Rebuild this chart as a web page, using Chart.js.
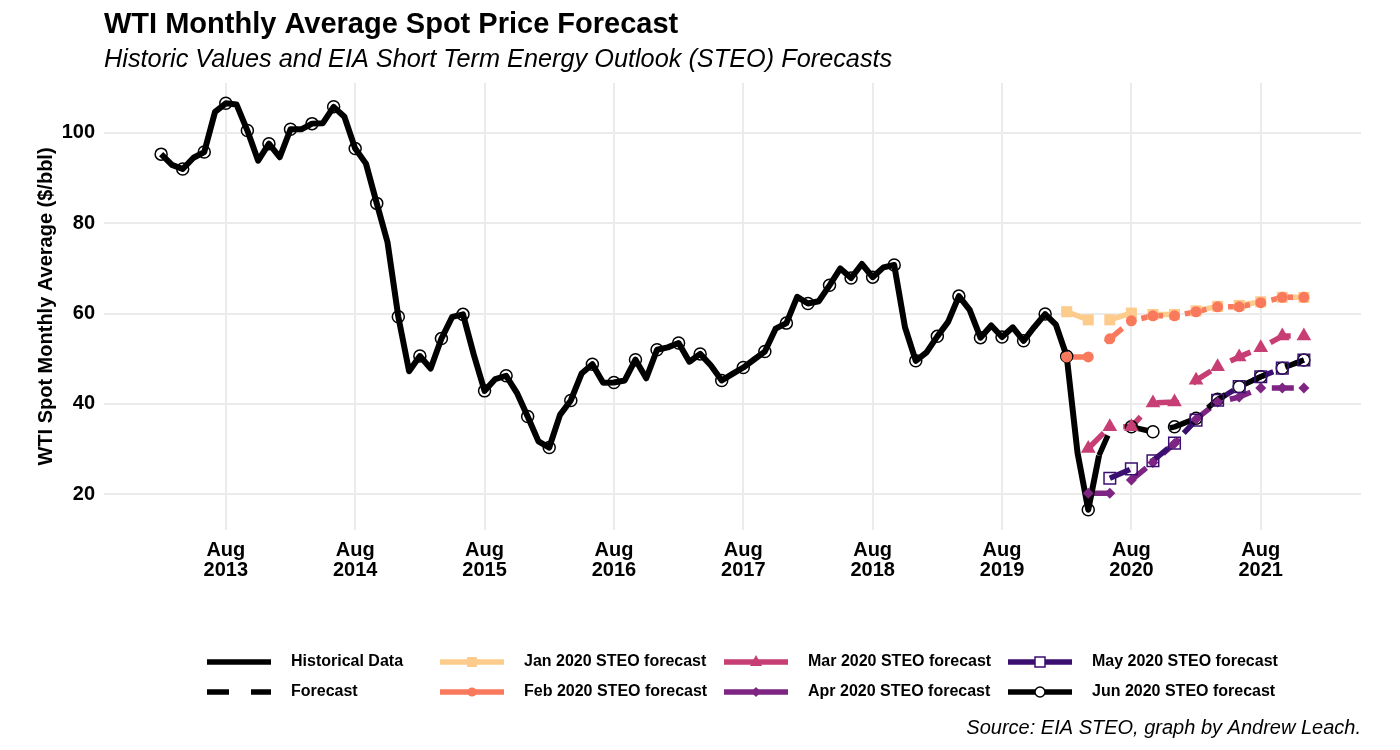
<!DOCTYPE html>
<html>
<head>
<meta charset="utf-8">
<title>WTI Monthly Average Spot Price Forecast</title>
<script src="https://cdn.jsdelivr.net/npm/chart.js@4.4.1/dist/chart.umd.min.js"></script>
<style>
    html, body { margin: 0; padding: 0; background: #fff; }
    #wrap { width: 1400px; height: 750px; }
</style>
</head>
<body>
<div id="wrap"><canvas id="chart_wti" width="1400" height="750"></canvas></div>
<script>
// x values are month numbers counted from Jan 2013 (= 0)
const histStart = 1; // Feb 2013
const histPrices = [
    95.31, 92.94, 92.02, 94.51, 95.77, 104.67, 106.57, 106.29, 100.54, 93.86, 97.63,
    94.62, 100.82, 100.80, 102.07, 102.18, 105.79, 103.59, 96.54, 93.21, 84.40, 75.79, 59.29,
    47.22, 50.58, 47.82, 54.45, 59.27, 59.82, 50.90, 42.87, 45.48, 46.22, 42.44, 37.19,
    31.68, 30.32, 37.55, 40.75, 46.71, 48.76, 44.65, 44.72, 45.18, 49.78, 45.66, 51.97,
    52.50, 53.47, 49.33, 51.06, 48.48, 45.18, 46.63, 48.04, 49.82, 51.58, 56.64, 57.88,
    63.70, 62.23, 62.73, 66.25, 69.98, 67.87, 70.98, 68.06, 70.23, 70.75, 56.96, 49.52,
    51.38, 54.95, 58.15, 63.86, 60.83, 54.66, 57.35, 54.81, 56.95, 53.96, 57.03, 59.88,
    57.52, 50.54, 29.21, 16.55, 28.56
];

// Feb 2020 .. Dec 2021, every second month
const forecastMonths = [85, 87, 89, 91, 93, 95, 97, 99, 101, 103, 105, 107];
const steoJan = [60.4, 58.6, 58.6, 60.1, 59.8, 59.8, 60.6, 61.6, 61.8, 62.6, 63.6, 63.6];
const steoFeb = [50.4, 50.4, 54.4, 58.4, 59.5, 59.5, 60.4, 61.5, 61.5, 62.4, 63.6, 63.6];
const steoMar = [null, 30.1, 34.9, 34.9, 40.2, 40.4, 45.2, 48.2, 50.4, 52.4, 55.0, 55.0];
const steoApr = [null, 20.2, 20.2, 23.1, 27.0, 31.2, 36.6, 40.4, 41.5, 43.5, 43.5, 43.5];
const steoMay = [null, null, 23.5, 25.6, 27.4, 31.3, 36.4, 40.8, 43.8, 46.0, 47.9, 49.7];
const steoJun = [null, null, 34.0, 34.9, 33.8, 34.9, 36.8, 41.0, 43.8, 46.0, 47.9, 49.7];
const junMarkerStart = 91; // no circle is visible at Jun 2020

const tickMonths = [7, 19, 31, 43, 55, 67, 79, 91, 103];
const tickYears = ['2013', '2014', '2015', '2016', '2017', '2018', '2019', '2020', '2021'];
const yTicks = [20, 40, 60, 80, 100];

const FONT = '"Liberation Sans", Arial, Helvetica, sans-serif';
const colors = {
    jan: '#FDCB8B',
    feb: '#F9795D',
    mar: '#C73E74',
    apr: '#7E2482',
    may: '#3B0F70',
    jun: '#000000'
};

function toPoints(values) {
    let out = [];
    values.forEach((v, i) => {
        if (v !== null) out.push({ x: forecastMonths[i], y: v });
    });
    return out;
}
function histPoints() {
    return histPrices.map((v, i) => ({ x: histStart + i, y: v }));
}

function lineSet(label, data, color, order, dashed) {
    return {
        label: label,
        data: data,
        borderColor: color,
        backgroundColor: color,
        borderWidth: dashed ? 5.5 : 6,
        borderDash: dashed ? [22, 22] : [],
        borderJoinStyle: 'round',
        borderCapStyle: 'butt',
        pointRadius: 0,
        tension: 0,
        order: order
    };
}
function pointSet(label, data, color, style, radius, open, order) {
    return {
        label: label,
        data: data,
        showLine: false,
        pointStyle: style,
        pointRadius: radius,
        pointBackgroundColor: open ? 'rgba(255,255,255,0)' : color,
        pointBorderColor: color,
        pointBorderWidth: open ? 1.5 : 0,
        order: order
    };
}

// Jun STEO: history circles every second month, then the forecast
let junHistory = histPoints().filter(p => p.x % 2 === 1);
let junForecast = toPoints(steoJun).filter(p => p.x >= junMarkerStart);
let lastHist = histPoints()[histPrices.length - 1];

let datasets = [
    lineSet('Jan line', toPoints(steoJan), colors.jan, 20, true),
    lineSet('Feb line', toPoints(steoFeb), colors.feb, 19, true),
    lineSet('Mar line', toPoints(steoMar), colors.mar, 18, true),
    lineSet('Apr line', toPoints(steoApr), colors.apr, 17, true),
    lineSet('May line', toPoints(steoMay), colors.may, 16, true),
    lineSet('Jun line', [lastHist].concat(toPoints(steoJun)), colors.jun, 15, true),
    lineSet('Historical Data', histPoints(), '#000000', 14, false),
    // the circles sit under the other forecast markers
    pointSet('Jun 2020 STEO forecast', junHistory.concat(junForecast), colors.jun, 'circle', 6, true, 11),
    pointSet('Jan 2020 STEO forecast', toPoints(steoJan), colors.jan, 'rect', 7.8, false, 10),
    pointSet('Feb 2020 STEO forecast', toPoints(steoFeb), colors.feb, 'circle', 5.5, false, 9),
    pointSet('Mar 2020 STEO forecast', toPoints(steoMar), colors.mar, 'triangle', 8.5, false, 8),
    pointSet('Apr 2020 STEO forecast', toPoints(steoApr), colors.apr, 'rectRot', 5.5, false, 7),
    pointSet('May 2020 STEO forecast', toPoints(steoMay), colors.may, 'rect', 8.2, true, 6)
];

const legendItems = [
    { label: 'Historical Data', color: '#000000', dash: [], marker: null },
    { label: 'Forecast', color: '#000000', dash: [22, 22], marker: null },
    { label: 'Jan 2020 STEO forecast', color: colors.jan, dash: [], marker: 'square' },
    { label: 'Feb 2020 STEO forecast', color: colors.feb, dash: [], marker: 'dot' },
    { label: 'Mar 2020 STEO forecast', color: colors.mar, dash: [], marker: 'triangle' },
    { label: 'Apr 2020 STEO forecast', color: colors.apr, dash: [], marker: 'diamond' },
    { label: 'May 2020 STEO forecast', color: colors.may, dash: [], marker: 'openSquare' },
    { label: 'Jun 2020 STEO forecast', color: colors.jun, dash: [], marker: 'openCircle' }
];
const legendColumns = [207, 440, 724, 1008];
const legendRows = [662, 692];

function drawMarker(ctx, type, x, y, color) {
    ctx.fillStyle = color;
    ctx.strokeStyle = color;
    ctx.lineWidth = 1.5;
    ctx.beginPath();
    if (type === 'square') {
        ctx.rect(x - 5, y - 5, 10, 10);
        ctx.fill();
    } else if (type === 'dot') {
        ctx.arc(x, y, 4.5, 0, Math.PI * 2);
        ctx.fill();
    } else if (type === 'triangle') {
        ctx.moveTo(x, y - 7);
        ctx.lineTo(x + 6, y + 4);
        ctx.lineTo(x - 6, y + 4);
        ctx.closePath();
        ctx.fill();
    } else if (type === 'diamond') {
        ctx.moveTo(x, y - 5);
        ctx.lineTo(x + 5, y);
        ctx.lineTo(x, y + 5);
        ctx.lineTo(x - 5, y);
        ctx.closePath();
        ctx.fill();
    } else if (type === 'openSquare') {
        ctx.fillStyle = '#ffffff';
        ctx.rect(x - 5, y - 5, 10, 10);
        ctx.fill();
        ctx.stroke();
    } else if (type === 'openCircle') {
        ctx.fillStyle = '#ffffff';
        ctx.arc(x, y, 5, 0, Math.PI * 2);
        ctx.fill();
        ctx.stroke();
    }
}

const decorations = {
    id: 'decorations',
    afterDraw(chart) {
        let ctx = chart.ctx;
        ctx.save();
        ctx.fillStyle = '#000';
        ctx.textAlign = 'left';
        ctx.textBaseline = 'alphabetic';
        ctx.font = 'bold 29px ' + FONT;
        ctx.fillText('WTI Monthly Average Spot Price Forecast', 104, 33);
        ctx.font = 'italic 25.3px ' + FONT;
        ctx.fillText('Historic Values and EIA Short Term Energy Outlook (STEO) Forecasts', 104, 67);
        ctx.textAlign = 'right';
        ctx.font = 'italic 20px ' + FONT;
        ctx.fillText('Source: EIA STEO, graph by Andrew Leach.', 1361, 734);

        legendItems.forEach((item, i) => {
            let x0 = legendColumns[Math.floor(i / 2)];
            let y = legendRows[i % 2];
            ctx.save();
            ctx.strokeStyle = item.color;
            ctx.lineWidth = 5.5;
            ctx.lineCap = 'butt';
            ctx.setLineDash(item.dash);
            ctx.beginPath();
            ctx.moveTo(x0, y);
            ctx.lineTo(x0 + 64, y);
            ctx.stroke();
            ctx.restore();
            if (item.marker) drawMarker(ctx, item.marker, x0 + 32, y, item.color);
            ctx.fillStyle = '#000';
            ctx.textAlign = 'left';
            ctx.textBaseline = 'middle';
            ctx.font = 'bold 16px ' + FONT;
            ctx.fillText(item.label, x0 + 84, y);
        });
        ctx.restore();
    }
};

Chart.defaults.font.family = FONT;

new Chart(document.getElementById('chart_wti'), {
    type: 'line',
    data: { datasets: datasets },
    options: {
        responsive: false,
        animation: false,
        devicePixelRatio: 1,
        layout: { padding: { left: 0, top: 83, right: 39, bottom: 160 } },
        plugins: {
            legend: { display: false },
            tooltip: { enabled: false },
            title: { display: false }
        },
        scales: {
            x: {
                type: 'linear',
                min: -4.3,
                max: 112.3,
                border: { display: false },
                grid: { color: '#EBEBEB', lineWidth: 2, drawTicks: false },
                afterBuildTicks: scale => { scale.ticks = tickMonths.map(v => ({ value: v })); },
                afterFit: scale => { scale.height = 60; },
                ticks: {
                    autoSkip: false,
                    maxRotation: 0,
                    padding: 10,
                    color: '#000',
                    font: { size: 20, weight: 'bold', lineHeight: 1 },
                    callback: value => ['Aug', tickYears[tickMonths.indexOf(value)]]
                }
            },
            y: {
                type: 'linear',
                min: 12.05,
                max: 111.07,
                border: { display: false },
                grid: { color: '#EBEBEB', lineWidth: 2, drawTicks: false },
                afterBuildTicks: scale => { scale.ticks = yTicks.map(v => ({ value: v })); },
                afterFit: scale => { scale.width = 104; },
                ticks: {
                    padding: 9,
                    color: '#000',
                    font: { size: 20, weight: 'bold' }
                },
                title: {
                    display: true,
                    text: 'WTI Spot Monthly Average ($/bbl)',
                    color: '#000',
                    font: { size: 20, weight: 'bold' },
                    padding: { top: 34, bottom: 0 }
                }
            }
        }
    },
    plugins: [decorations]
});
</script>
</body>
</html>
